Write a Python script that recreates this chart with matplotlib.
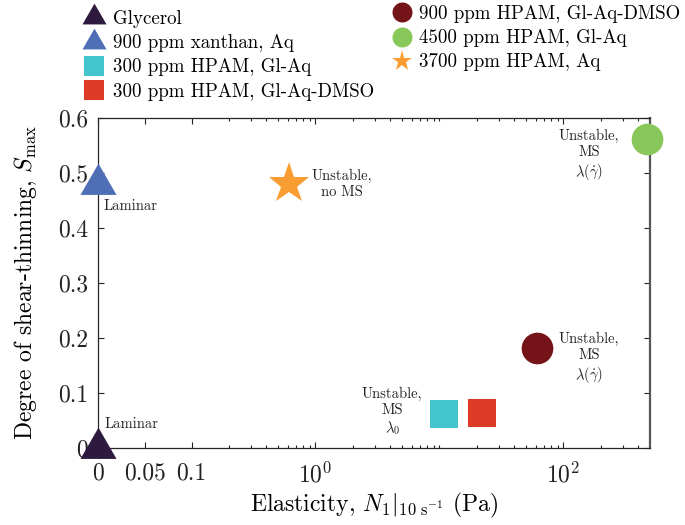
import matplotlib
matplotlib.use("Agg")
import matplotlib.pyplot as plt
from matplotlib.lines import Line2D
from matplotlib.path import Path
import numpy as np

plt.rcParams['font.family'] = ['cmr10', 'DejaVu Serif']
plt.rcParams['mathtext.fontset'] = 'cm'
plt.rcParams['axes.unicode_minus'] = False
plt.rcParams['axes.formatter.use_mathtext'] = True

# ---- data ----
categories = ['Glycerol', '900 ppm xanthan, Aq', '300 ppm HPAM, Gl-Aq',
              '300 ppm HPAM, Gl-Aq-DMSO', '900 ppm HPAM, Gl-Aq-DMSO',
              '4500 ppm HPAM, Gl-Aq', '3700 ppm HPAM, Aq']
elasticity = [0, 0, 10.9, 22.2, 60.8, 474, 0.61]
shear_thinning = [0, 0.48, 0.062, 0.064, 0.181, 0.562, 0.48]
annotations = ['Laminar', 'Laminar', 'Unstable,\nMS\n$\\lambda_0$', '',
               'Unstable,\nMS\n$\\lambda(\\dot{\\gamma})$',
               'Unstable,\nMS\n$\\lambda(\\dot{\\gamma})$', 'Unstable,\nno MS']
x_tick_values = [0, 0.05, 0.1, 1, 100]
x_tick_labels = ['0', '0.05', '0.1', '$10^0$', '$10^2$']
y_tick_values = [0, 0.1, 0.2, 0.3, 0.4, 0.5, 0.6]
y_tick_labels = ['0', '0.1', '0.2', '0.3', '0.4', '0.5', '0.6']

# ---- styles ----
tri = Path([(0, 1), (-0.866, -0.5), (0.866, -0.5), (0, 1)],
           [Path.MOVETO, Path.LINETO, Path.LINETO, Path.CLOSEPOLY])
colors = ['#2d1a3e', '#4e6fb6', '#44c4cc', '#dc3b26', '#741418', '#88c75a', '#f99d33']
markers = [tri, tri, 's', 's', 'o', 'o', '*']
sizes = [30, 30, 19.5, 19.5, 22.8, 22.8, 31]
leg_sizes = [20, 20, 13.7, 13.7, 14.4, 14.4, 15.5]
# annotation offsets (points) and alignment
ann_off = [(5, 17.3), (4.3, -15.8), (-37.3, 1.7), (0, 0), (37.7, -7), (-41.8, -12), (38, 0)]
ann_ha = ['left', 'left', 'center', 'center', 'center', 'center', 'center']

fig = plt.figure(figsize=(6.85, 5.25), dpi=100)
ax = fig.add_axes([98/685, 1 - 448/525, 552/685, 330/525])
ax.set_xscale('symlog', linthresh=0.1, linscale=0.679)

for i in range(len(categories)):
    ax.plot([elasticity[i]], [shear_thinning[i]], linestyle='none',
            marker=markers[i], markersize=sizes[i], color=colors[i],
            markeredgewidth=0, clip_on=False, zorder=5)
    if annotations[i]:
        ax.annotate(annotations[i], (elasticity[i], shear_thinning[i]),
                    xytext=ann_off[i], textcoords='offset points',
                    ha=ann_ha[i], va='center', fontsize=10.5,
                    multialignment='center', linespacing=1.2,
                    color='#222222', zorder=6)

ax.set_xlim(0, 500)
ax.set_ylim(0, 0.6)
ax.set_xticks(x_tick_values)
ax.set_xticklabels(x_tick_labels)
minor = [0.2, 0.3, 0.4, 0.5, 0.6, 0.7, 0.8, 0.9] + list(range(2, 10)) + [10] + \
        list(range(20, 100, 10)) + [200, 300, 400]
ax.set_xticks(minor, minor=True)
ax.set_yticks(y_tick_values)
ax.set_yticklabels(y_tick_labels)
ax.tick_params(which='both', direction='in', top=True, right=True,
               labelsize=17, pad=7, colors='#222222')
ax.tick_params(axis='x', which='both', pad=10)
ax.tick_params(which='major', length=4.5, width=0.8)
ax.tick_params(which='minor', length=2.5, width=0.8)
for s in ['left', 'bottom', 'top']:
    ax.spines[s].set_color('#262626')
    ax.spines[s].set_linewidth(0.9)
ax.spines['right'].set_color('#555555')
ax.spines['right'].set_linewidth(1.6)

ax.set_xlabel('Elasticity, $N_1|_{10\\ \\mathrm{s}^{-1}}$ (Pa)', fontsize=17, labelpad=3)
ax.set_ylabel('Degree of shear-thinning, $S_\\mathrm{max}$', fontsize=17, labelpad=14)

handles = [Line2D([], [], linestyle='none', marker=markers[i], markersize=leg_sizes[i],
                  color=colors[i], markeredgewidth=0) for i in range(len(categories))]
leg1 = fig.legend(handles[:4], categories[:4], loc='upper left',
                  bbox_to_anchor=(85/685, 1 - 10/525), frameon=False, fontsize=13.6,
                  handlelength=1.0, handletextpad=0.5, labelspacing=0.33,
                  borderpad=0, borderaxespad=0)
leg2 = fig.legend(handles[4:], categories[4:], loc='upper left',
                  bbox_to_anchor=(393/685, 1 - 5/525), frameon=False, fontsize=13.6,
                  handlelength=1.0, handletextpad=0.4, labelspacing=0.33,
                  borderpad=0, borderaxespad=0)

fig.savefig('out.png', dpi=100)
